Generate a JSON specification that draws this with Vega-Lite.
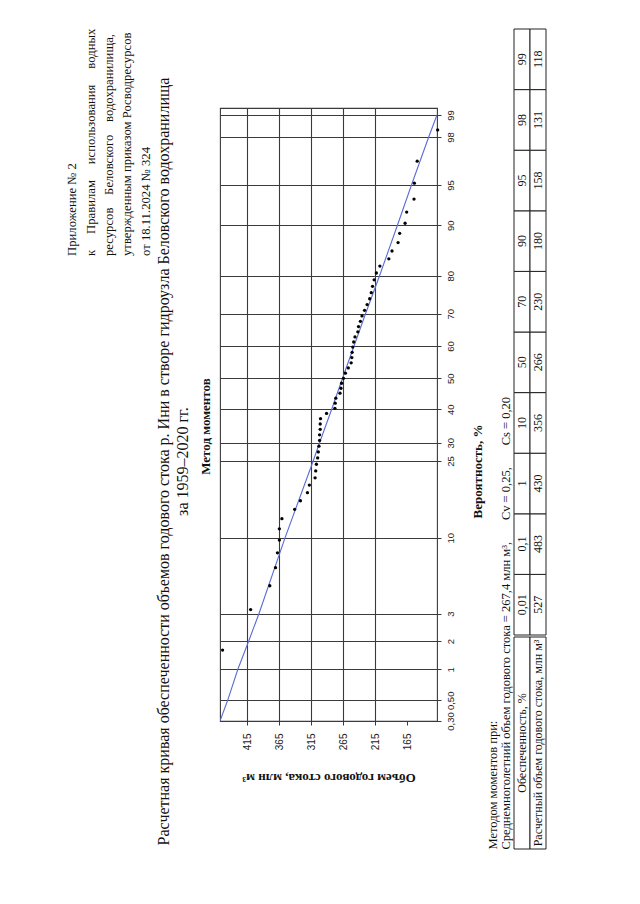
{
  "$schema": "https://vega.github.io/schema/vega-lite/v6.json",
  "background": "white",
  "padding": {"left": 63, "top": 28, "right": 0, "bottom": 0},
  "config": {
    "font": "Liberation Serif",
    "view": {"stroke": null},
    "axis": {"labelFont": "Liberation Sans", "titleFont": "Liberation Serif", "labelColor": "#222", "titleColor": "#111"},
    "title": {"font": "Liberation Serif", "color": "#111", "subtitleColor": "#111"}
  },
  "spacing": 0,
  "hconcat": [
    {
      "width": 92,
      "height": 454,
      "data": {"values": [
        {"n": 1, "t": "Приложение № 2"},
        {"n": 2, "t": "к\u00a0\u00a0\u00a0\u00a0\u00a0Правилам\u00a0\u00a0\u00a0\u00a0\u00a0использования\u00a0\u00a0\u00a0\u00a0\u00a0водных"},
        {"n": 3, "t": "ресурсов\u00a0\u00a0\u00a0\u00a0Беловского\u00a0\u00a0\u00a0\u00a0водохранилища,"},
        {"n": 4, "t": "утвержденным приказом Росводресурсов"},
        {"n": 5, "t": "от 18.11.2024 № 324"}
      ]},
      "mark": {"type": "text", "angle": -90, "align": "left", "baseline": "middle", "fontSize": 12.7, "font": "Liberation Serif", "color": "#111"},
      "encoding": {
        "x": {"field": "n", "type": "ordinal", "axis": null},
        "text": {"field": "t"}
      }
    },
    {
      "spacing": 0,
      "bounds": "flush",
      "vconcat": [
        {
          "width": 217,
          "height": 79,
          "data": {"values": [{}]},
          "mark": {"type": "text"},
          "encoding": {"text": {"value": ""}}
        },
        {
          "width": 217,
          "height": 613,
          "title": {
            "text": ["Расчетная кривая обеспеченности объемов годового стока р. Ини в створе гидроузла Беловского водохранилища", "за 1959–2020 гг."],
            "orient": "left",
            "anchor": "middle",
            "fontSize": 16,
            "fontWeight": "normal",
            "lineHeight": 19,
            "offset": 8,
            "dx": -47
          },
          "view": {"stroke": "#3a3a3a", "strokeWidth": 1.1},
          "resolve": {"axis": {"x": "independent", "y": "independent"}},
          "layer": [
            {
              "data": {"values": [
                {"p": 0.3, "q": 458}, {"p": 0.5, "q": 446}, {"p": 1, "q": 430}, {"p": 2, "q": 413},
                {"p": 3, "q": 397}, {"p": 10, "q": 356}, {"p": 25, "q": 312}, {"p": 30, "q": 302},
                {"p": 40, "q": 283}, {"p": 50, "q": 266}, {"p": 60, "q": 248}, {"p": 70, "q": 230},
                {"p": 80, "q": 208}, {"p": 90, "q": 180}, {"p": 95, "q": 158}, {"p": 98, "q": 131},
                {"p": 99, "q": 118}
              ]},
              "transform": [{"calculate": "quantileNormal(datum.p / 100)", "as": "z"}],
              "mark": {"type": "line", "color": "#5b6bd6", "strokeWidth": 1.1, "clip": true},
              "encoding": {
                "x": {
                  "field": "q", "type": "quantitative",
                  "scale": {"domain": [118, 458], "reverse": true, "nice": false, "zero": false},
                  "axis": {
                    "orient": "bottom",
                    "values": [165, 215, 265, 315, 365, 415],
                    "labelAngle": -90,
                    "labelFontSize": 10,
                    "labelPadding": 8,
                    "labelFlush": false,
                    "tickSize": 4,
                    "tickColor": "#3a3a3a",
                    "domain": false,
                    "grid": true,
                    "gridColor": "#3a3a3a",
                    "gridWidth": 1.1,
                    "gridOpacity": {"condition": {"test": "datum.value === 165", "value": 0}, "value": 1},
                    "title": "Объем годового стока, млн м³",
                    "titleAngle": 180,
                    "titleFontSize": 13,
                    "titleFontWeight": "bold",
                    "titlePadding": 34
                  }
                },
                "y": {
                  "field": "z", "type": "quantitative",
                  "scale": {
                    "domain": [-2.7478, -2.5758, -2.3263, -2.0537, -1.8808, -1.2816, -0.6745, -0.5244, -0.2533, 0, 0.2533, 0.5244, 0.8416, 1.2816, 1.6449, 2.0537, 2.3263, 2.4],
                    "range": [613, 592.3, 561.3, 533, 505.7, 429.7, 353, 334.7, 301.3, 270.3, 238, 205.7, 167.7, 117.3, 77, 29, 7, 0],
                    "nice": false, "zero": false
                  },
                  "axis": {
                    "orient": "right",
                    "values": [-2.7478, -2.5758, -2.3263, -2.0537, -1.8808, -1.2816, -0.6745, -0.5244, -0.2533, 0, 0.2533, 0.5244, 0.8416, 1.2816, 1.6449, 2.0537, 2.3263],
                    "labelExpr": "datum.value < -2.5 ? replace(format(cumulativeNormal(datum.value) * 100, '.2f'), '.', ',') : format(cumulativeNormal(datum.value) * 100, '.0f')",
                    "labelAngle": -90,
                    "labelAlign": "center",
                    "labelBaseline": "top",
                    "labelFontSize": 9.5,
                    "labelPadding": 4,
                    "labelOverlap": false,
                    "labelFlush": false,
                    "tickSize": 4,
                    "tickColor": "#3a3a3a",
                    "domain": false,
                    "grid": true,
                    "gridColor": "#3a3a3a",
                    "gridWidth": 1.1,
                    "title": "Вероятность, %",
                    "titleAngle": -90,
                    "titleFontSize": 13,
                    "titleFontWeight": "bold",
                    "titlePadding": 30,
                    "titleY": 363
                  }
                }
              }
            },
            {
              "data": {"values": [
                {"p": 1.613, "q": 454}, {"p": 3.226, "q": 410}, {"p": 4.839, "q": 380}, {"p": 6.452, "q": 371},
                {"p": 8.065, "q": 368}, {"p": 9.677, "q": 365}, {"p": 11.29, "q": 365}, {"p": 12.90, "q": 361},
                {"p": 14.52, "q": 341}, {"p": 16.13, "q": 332}, {"p": 17.74, "q": 321}, {"p": 19.35, "q": 318},
                {"p": 20.97, "q": 309}, {"p": 22.58, "q": 308}, {"p": 24.19, "q": 307}, {"p": 25.81, "q": 305},
                {"p": 27.42, "q": 304}, {"p": 29.03, "q": 303}, {"p": 30.65, "q": 302}, {"p": 32.26, "q": 302},
                {"p": 33.87, "q": 301}, {"p": 35.48, "q": 301}, {"p": 37.10, "q": 300.5}, {"p": 38.71, "q": 291},
                {"p": 40.32, "q": 278}, {"p": 41.94, "q": 277.5}, {"p": 43.55, "q": 276.5}, {"p": 45.16, "q": 270},
                {"p": 46.77, "q": 268.5}, {"p": 48.39, "q": 267.5}, {"p": 50.00, "q": 264.5}, {"p": 51.61, "q": 261.5},
                {"p": 53.23, "q": 257}, {"p": 54.84, "q": 252.5}, {"p": 56.45, "q": 251.5}, {"p": 58.06, "q": 251},
                {"p": 59.68, "q": 250}, {"p": 61.29, "q": 248.5}, {"p": 62.90, "q": 246.5}, {"p": 64.52, "q": 242},
                {"p": 66.13, "q": 241}, {"p": 67.74, "q": 238}, {"p": 69.35, "q": 235.5}, {"p": 70.97, "q": 231.5},
                {"p": 72.58, "q": 227.5}, {"p": 74.19, "q": 223.5}, {"p": 75.81, "q": 221}, {"p": 77.42, "q": 219},
                {"p": 79.03, "q": 216.5}, {"p": 80.65, "q": 213}, {"p": 82.26, "q": 207.5}, {"p": 83.87, "q": 193.5},
                {"p": 85.48, "q": 188.5}, {"p": 87.10, "q": 179}, {"p": 88.71, "q": 176.5}, {"p": 90.32, "q": 168},
                {"p": 91.94, "q": 165.5}, {"p": 93.55, "q": 154}, {"p": 95.16, "q": 153.5}, {"p": 96.77, "q": 149},
                {"p": 98.39, "q": 117}
              ]},
              "transform": [{"calculate": "quantileNormal(datum.p / 100)", "as": "z"}],
              "mark": {"type": "circle", "color": "black", "size": 11, "opacity": 1},
              "encoding": {
                "x": {"field": "q", "type": "quantitative", "axis": null},
                "y": {
                  "field": "z", "type": "quantitative",
                  "axis": {"orient": "left", "labels": false, "ticks": false, "domain": false, "grid": false, "minExtent": 0, "maxExtent": 0, "title": "Метод моментов", "titleFontSize": 13, "titleFontWeight": "bold", "titlePadding": 8, "titleY": 318}
                }
              }
            }
          ]
        }
      ]
    },
    {
      "title": {
        "text": ["Методом моментов при:", "Среднемноголетний объем годового стока = 267,4 млн м³,\u00a0\u00a0\u00a0\u00a0\u00a0\u00a0 Cv = 0,25,\u00a0\u00a0\u00a0\u00a0\u00a0\u00a0 Cs = 0,20"],
        "orient": "left",
        "anchor": "start",
        "fontSize": 12.5,
        "fontWeight": "normal",
        "lineHeight": 13.5,
        "offset": 1
      },
      "spacing": 0,
      "vconcat": [
        {
          "width": 32,
          "height": 606,
          "data": {"values": [
            {"c": 1, "r": 1, "t": "0,01"}, {"c": 1, "r": 2, "t": "527"},
            {"c": 2, "r": 1, "t": "0,1"}, {"c": 2, "r": 2, "t": "483"},
            {"c": 3, "r": 1, "t": "1"}, {"c": 3, "r": 2, "t": "430"},
            {"c": 4, "r": 1, "t": "10"}, {"c": 4, "r": 2, "t": "356"},
            {"c": 5, "r": 1, "t": "50"}, {"c": 5, "r": 2, "t": "266"},
            {"c": 6, "r": 1, "t": "70"}, {"c": 6, "r": 2, "t": "230"},
            {"c": 7, "r": 1, "t": "90"}, {"c": 7, "r": 2, "t": "180"},
            {"c": 8, "r": 1, "t": "95"}, {"c": 8, "r": 2, "t": "158"},
            {"c": 9, "r": 1, "t": "98"}, {"c": 9, "r": 2, "t": "131"},
            {"c": 10, "r": 1, "t": "99"}, {"c": 10, "r": 2, "t": "118"}
          ]},
          "encoding": {
            "x": {"field": "r", "type": "ordinal", "axis": null, "scale": {"paddingInner": 0, "paddingOuter": 0}},
            "y": {"field": "c", "type": "ordinal", "axis": null, "sort": "descending", "scale": {"paddingInner": 0, "paddingOuter": 0}}
          },
          "layer": [
            {"mark": {"type": "rect", "fill": "white", "stroke": "#222", "strokeWidth": 1}},
            {"mark": {"type": "text", "angle": -90, "fontSize": 12, "font": "Liberation Serif", "color": "#111"}, "encoding": {"text": {"field": "t"}}}
          ]
        },
        {
          "width": 32,
          "height": 212,
          "data": {"values": [
            {"r": 1, "t": "Обеспеченность, %"},
            {"r": 2, "t": "Расчетный объем годового стока, млн м³"}
          ]},
          "encoding": {
            "x": {"field": "r", "type": "ordinal", "axis": null, "scale": {"paddingInner": 0, "paddingOuter": 0}}
          },
          "layer": [
            {"mark": {"type": "rect", "fill": "white", "stroke": "#222", "strokeWidth": 1}},
            {"mark": {"type": "text", "angle": -90, "fontSize": 12, "font": "Liberation Serif", "color": "#111"}, "encoding": {"text": {"field": "t"}}}
          ]
        }
      ]
    }
  ]
}
